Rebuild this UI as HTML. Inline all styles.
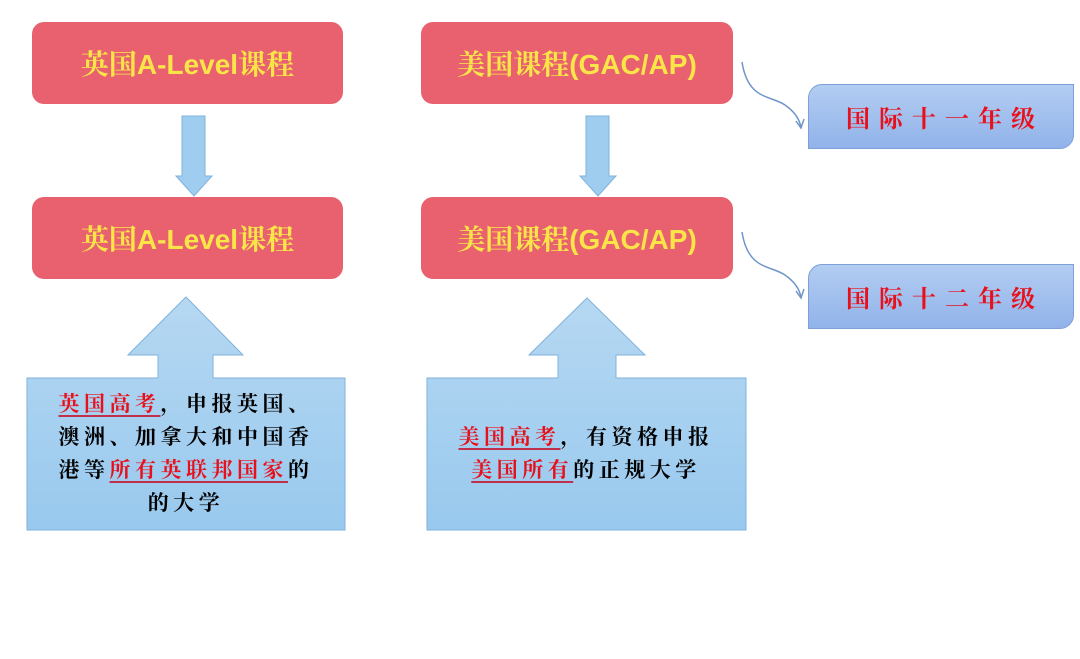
<!DOCTYPE html>
<html><head><meta charset="utf-8"><style>
body{margin:0;width:1080px;height:659px;background:#fff;position:relative;overflow:hidden;font-family:"Liberation Sans","Noto Serif CJK SC","Noto Sans CJK SC",serif;}
.r{position:absolute;background:#e9606f;border-radius:12px;color:#f9e548;font-size:28px;font-weight:bold;display:flex;align-items:center;justify-content:center;}
.b{position:absolute;background:linear-gradient(#b3cdf2,#91b3ea);border:1px solid #7ea0d8;border-radius:14px 0 14px 0;color:#e8101a;font-size:24px;font-weight:bold;letter-spacing:9px;display:flex;align-items:center;justify-content:center;padding-left:8px;box-sizing:border-box;}
.t{position:absolute;color:#000;font-size:21px;font-weight:bold;line-height:33px;text-align:center;letter-spacing:4.5px;}
u{color:#e8101a;text-decoration-color:#c0304a;text-decoration-thickness:2px;text-underline-offset:4px;}
</style></head><body>
<svg width="1080" height="659" style="position:absolute;left:0;top:0">
<defs><linearGradient id="g" x1="0" y1="0" x2="0" y2="1"><stop offset="0" stop-color="#b6d8f2"/><stop offset="1" stop-color="#98c9ee"/></linearGradient></defs>
<polygon points="182,116 205,116 205,176 212,176 194,196 176,176 182,176" fill="#9fcdef" stroke="#7fb2dc"/>
<polygon points="586,116 609,116 609,176 616,176 598,196 580,176 586,176" fill="#9fcdef" stroke="#7fb2dc"/>
<polygon points="186,297 243,355 213,355 213,378 345,378 345,530 27,530 27,378 158,378 158,355 128,355" fill="url(#g)" stroke="#7fb2dc"/>
<polygon points="587,298 645,355 616,355 616,378 746,378 746,530 427,530 427,378 558,378 558,355 529,355" fill="url(#g)" stroke="#7fb2dc"/>
<path d="M742,62 C748,100 770,95 785,105 C795,112 800,120 801,128" fill="none" stroke="#6f95c8" stroke-width="1.5"/>
<path d="M796,121 L801,128 L804,119" fill="none" stroke="#6f95c8" stroke-width="1.5"/>
<path d="M742,232 C748,270 770,265 785,275 C795,282 800,290 801,298" fill="none" stroke="#6f95c8" stroke-width="1.5"/>
<path d="M796,291 L801,298 L804,289" fill="none" stroke="#6f95c8" stroke-width="1.5"/>
</svg>
<div class="r" style="left:32px;top:22px;width:311px;height:82px">英国A-Level课程</div>
<div class="r" style="left:32px;top:197px;width:311px;height:82px">英国A-Level课程</div>
<div class="r" style="left:421px;top:22px;width:312px;height:82px">美国课程(GAC/AP)</div>
<div class="r" style="left:421px;top:197px;width:312px;height:82px">美国课程(GAC/AP)</div>
<div class="b" style="left:808px;top:84px;width:266px;height:65px">国际十一年级</div>
<div class="b" style="left:808px;top:264px;width:266px;height:65px">国际十二年级</div>
<div class="t" style="left:24px;top:388px;width:324px"><u>英国高考</u>，申报英国、<br>澳洲、加拿大和中国香<br>港等<u>所有英联邦国家</u>的<br>的大学</div>
<div class="t" style="left:424px;top:421px;width:324px"><u>美国高考</u>，有资格申报<br><u>美国所有</u>的正规大学</div>
</body></html>
